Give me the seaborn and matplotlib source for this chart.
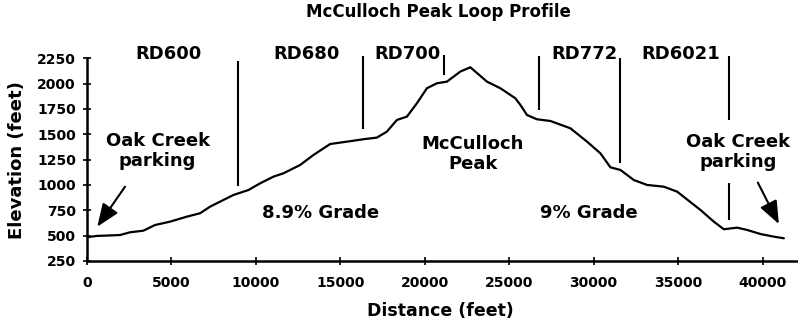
import matplotlib
matplotlib.use("Agg")
import matplotlib.pyplot as plt
import seaborn as sns

# Trail profile: distance along the loop (feet) and elevation (feet)
distance = [0, 570, 1955, 2548, 3338, 4030, 4919, 5906, 6696, 7289, 8670, 9560,
            10252, 11042, 11634, 12622, 13412, 14400, 15388, 16375, 17165, 17758,
            18350, 18943, 19536, 20128, 20721, 21313, 22104, 22696, 23684, 24474,
            25363, 25659, 26054, 26637, 27437, 28622, 29610, 30400, 30993, 31585,
            32375, 33165, 34153, 34943, 36326, 37116, 37708, 38499, 39091, 39881,
            40671, 41264]
elevation = [484, 497, 506, 533, 549, 605, 638, 687, 721, 786, 901, 950,
             1016, 1082, 1115, 1197, 1296, 1404, 1427, 1451, 1467, 1526,
             1641, 1674, 1806, 1954, 2003, 2019, 2118, 2161, 2019, 1954,
             1855, 1790, 1690, 1648, 1631, 1559, 1427, 1312, 1174, 1148,
             1049, 1000, 983, 934, 753, 638, 563, 579, 556, 516,
             490, 474]

# Road junction markers
road_names = ["RD600", "RD680", "RD700", "RD772", "RD6021"]
road_label_x = [4800, 13000, 19000, 29480, 35180]
marker_x = [8966, 16335, 21156, 26745, 31585, 38044, 38044]
marker_top = [2226, 2273, 2283, 2273, 2250, 2273, 1023]
marker_bottom = [993, 1549, 2085, 1740, 1214, 1641, 655]

x_ticks = [0, 5000, 10000, 15000, 20000, 25000, 30000, 35000, 40000]
y_ticks = [250, 500, 750, 1000, 1250, 1500, 1750, 2000, 2250]

sns.set_style("ticks")
plt.rcParams["font.family"] = ["DejaVu Sans"]
plt.rcParams["font.weight"] = "bold"
plt.rcParams["text.color"] = "black"
plt.rcParams["axes.labelcolor"] = "black"
plt.rcParams["xtick.color"] = "black"
plt.rcParams["ytick.color"] = "black"
plt.rcParams["axes.edgecolor"] = "black"

fig = plt.figure(figsize=(7.98, 3.26), dpi=100)
ax = fig.add_axes([0.109, 0.1994, 0.891, 0.622])

sns.lineplot(x=distance, y=elevation, sort=False, color="black", lw=1.6, ax=ax)

ax.vlines(marker_x, marker_bottom, marker_top, color="black", lw=1.5, clip_on=False)

for name, xv in zip(road_names, road_label_x):
    ax.text(xv, 2293, name, ha="center", va="center", fontsize=13,
            fontweight="bold", color="black", clip_on=False)

label_kw = dict(ha="center", va="center", fontsize=13, fontweight="bold",
                color="black", linespacing=1.15)
ax.text(4180, 1335, "Oak Creek\nparking", **label_kw)
ax.text(38550, 1326, "Oak Creek\nparking", **label_kw)
ax.text(22855, 1306, "McCulloch\nPeak", **label_kw)
ax.text(13860, 727, "8.9% Grade", **label_kw)
ax.text(29740, 727, "9% Grade", **label_kw)

arrow_kw = dict(arrowstyle="-|>,head_length=0.7,head_width=0.28", color="black",
                lw=1.5, mutation_scale=20, shrinkA=0, shrinkB=0)
ax.annotate("", xy=(610, 588), xytext=(2252, 983), arrowprops=arrow_kw)
ax.annotate("", xy=(40967, 615), xytext=(39723, 1023), arrowprops=arrow_kw)

ax.set_xlim(0, 42100)
ax.set_ylim(250, 2250)
ax.set_xticks(x_ticks)
ax.set_yticks(y_ticks)
ax.tick_params(axis="both", direction="inout", length=6, width=1.2,
               labelsize=10)
ax.tick_params(axis="x", pad=8)
ax.tick_params(axis="y", pad=5)
for lab in ax.get_xticklabels() + ax.get_yticklabels():
    lab.set_fontweight("bold")

for side in ["top", "right"]:
    ax.spines[side].set_visible(False)
for side in ["left", "bottom"]:
    ax.spines[side].set_linewidth(1.8)

ax.set_xlabel("Distance (feet)", fontsize=12.5, fontweight="bold")
ax.set_ylabel("Elevation (feet)", fontsize=13, fontweight="bold")
ax.xaxis.set_label_coords(0.4965, -0.2)
ax.yaxis.set_label_coords(-0.086, 0.5)

fig.suptitle("McCulloch Peak Loop Profile", fontsize=12, fontweight="bold",
             x=0.55, y=0.962, va="center")

fig.savefig("out.png", dpi=100)
